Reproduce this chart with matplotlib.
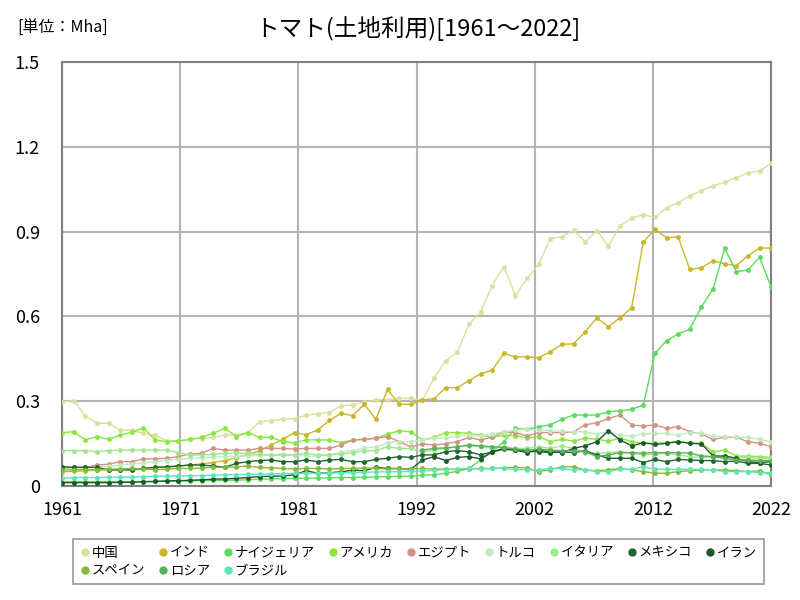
import numpy as np
import matplotlib
matplotlib.use('Agg')
import matplotlib.pyplot as plt
from matplotlib.lines import Line2D

plt.rcParams['font.family'] = ['Noto Sans CJK JP', 'DejaVu Sans']

years = list(range(1961, 2023))

# values in Mha
china = [0.298, 0.302, 0.249, 0.222, 0.222, 0.198, 0.198, 0.186, 0.180, 0.160,
         0.160, 0.165, 0.168, 0.172, 0.180, 0.182, 0.188, 0.228, 0.231, 0.237,
         0.238, 0.250, 0.256, 0.260, 0.284, 0.287, 0.297, 0.305, 0.305, 0.310,
         0.310, 0.304, 0.382, 0.443, 0.473, 0.572, 0.615, 0.709, 0.776, 0.673,
         0.735, 0.785, 0.875, 0.882, 0.905, 0.864, 0.903, 0.850, 0.920, 0.948,
         0.960, 0.950, 0.985, 1.002, 1.027, 1.045, 1.062, 1.074, 1.091, 1.108,
         1.115, 1.141]
india = [0.050, 0.052, 0.054, 0.056, 0.057, 0.058, 0.060, 0.062, 0.065, 0.067,
         0.070, 0.075, 0.078, 0.083, 0.090, 0.100, 0.112, 0.125, 0.145, 0.165,
         0.189, 0.182, 0.198, 0.232, 0.257, 0.249, 0.289, 0.236, 0.342, 0.289,
         0.289, 0.304, 0.309, 0.348, 0.348, 0.372, 0.397, 0.409, 0.469, 0.457,
         0.457, 0.454, 0.475, 0.501, 0.503, 0.545, 0.595, 0.564, 0.595, 0.631,
         0.864, 0.908, 0.878, 0.881, 0.766, 0.772, 0.797, 0.786, 0.779, 0.815,
         0.842, 0.842]
nigeria = [0.015, 0.015, 0.015, 0.015, 0.015, 0.015, 0.015, 0.016, 0.016, 0.017,
           0.018, 0.018, 0.019, 0.020, 0.020, 0.021, 0.022, 0.024, 0.025, 0.026,
           0.027, 0.028, 0.028, 0.029, 0.030, 0.030, 0.031, 0.032, 0.033, 0.034,
           0.035, 0.038, 0.040, 0.045, 0.052, 0.062, 0.092, 0.121, 0.157, 0.204,
           0.200, 0.210, 0.216, 0.236, 0.251, 0.251, 0.251, 0.263, 0.266, 0.271,
           0.286, 0.469, 0.514, 0.538, 0.555, 0.634, 0.697, 0.841, 0.758, 0.764,
           0.809, 0.703]
america = [0.189, 0.192, 0.163, 0.175, 0.165, 0.180, 0.190, 0.206, 0.163, 0.157,
           0.159, 0.165, 0.172, 0.186, 0.204, 0.175, 0.189, 0.172, 0.172, 0.157,
           0.153, 0.163, 0.163, 0.163, 0.153, 0.163, 0.165, 0.169, 0.184, 0.195,
           0.192, 0.163, 0.172, 0.189, 0.189, 0.186, 0.180, 0.172, 0.180, 0.178,
           0.170, 0.175, 0.157, 0.165, 0.159, 0.169, 0.165, 0.159, 0.169, 0.157,
           0.151, 0.151, 0.153, 0.157, 0.153, 0.151, 0.121, 0.127, 0.106, 0.106,
           0.104, 0.101]
egypt = [0.066, 0.066, 0.066, 0.074, 0.077, 0.086, 0.086, 0.096, 0.096, 0.098,
         0.104, 0.113, 0.116, 0.133, 0.127, 0.127, 0.127, 0.133, 0.133, 0.133,
         0.131, 0.133, 0.133, 0.133, 0.145, 0.163, 0.165, 0.169, 0.175, 0.157,
         0.139, 0.149, 0.145, 0.149, 0.157, 0.172, 0.163, 0.172, 0.192, 0.189,
         0.177, 0.189, 0.189, 0.189, 0.192, 0.216, 0.224, 0.239, 0.251, 0.216,
         0.212, 0.216, 0.204, 0.210, 0.192, 0.184, 0.165, 0.172, 0.172, 0.157,
         0.151, 0.139]
turkey = [0.060, 0.062, 0.065, 0.068, 0.070, 0.074, 0.078, 0.082, 0.086, 0.090,
          0.095, 0.098, 0.100, 0.102, 0.104, 0.106, 0.106, 0.108, 0.110, 0.112,
          0.110, 0.106, 0.106, 0.110, 0.120, 0.125, 0.133, 0.139, 0.153, 0.157,
          0.157, 0.163, 0.169, 0.169, 0.177, 0.180, 0.177, 0.184, 0.192, 0.198,
          0.200, 0.198, 0.196, 0.194, 0.192, 0.192, 0.184, 0.192, 0.180, 0.177,
          0.184, 0.186, 0.186, 0.180, 0.189, 0.186, 0.177, 0.175, 0.172, 0.172,
          0.165, 0.157]
italy = [0.125, 0.125, 0.125, 0.122, 0.125, 0.127, 0.127, 0.127, 0.127, 0.127,
         0.118, 0.110, 0.110, 0.112, 0.115, 0.118, 0.115, 0.112, 0.110, 0.108,
         0.110, 0.115, 0.110, 0.110, 0.113, 0.118, 0.125, 0.125, 0.139, 0.133,
         0.133, 0.121, 0.127, 0.133, 0.139, 0.142, 0.139, 0.133, 0.139, 0.133,
         0.133, 0.139, 0.133, 0.142, 0.133, 0.118, 0.116, 0.118, 0.121, 0.116,
         0.110, 0.113, 0.116, 0.110, 0.104, 0.101, 0.101, 0.101, 0.101, 0.101,
         0.098, 0.098]
mexico = [0.068, 0.066, 0.066, 0.066, 0.057, 0.057, 0.057, 0.062, 0.066, 0.068,
          0.071, 0.074, 0.074, 0.071, 0.066, 0.080, 0.086, 0.090, 0.092, 0.086,
          0.086, 0.092, 0.086, 0.092, 0.094, 0.086, 0.086, 0.094, 0.098, 0.104,
          0.101, 0.110, 0.110, 0.121, 0.125, 0.121, 0.110, 0.121, 0.130, 0.127,
          0.124, 0.121, 0.118, 0.121, 0.118, 0.125, 0.110, 0.098, 0.098, 0.098,
          0.083, 0.094, 0.086, 0.094, 0.092, 0.090, 0.090, 0.086, 0.088, 0.080,
          0.080, 0.074]
iran = [0.012, 0.012, 0.012, 0.012, 0.012, 0.013, 0.013, 0.015, 0.016, 0.018,
        0.019, 0.020, 0.022, 0.024, 0.025, 0.027, 0.030, 0.033, 0.035, 0.035,
        0.040, 0.054, 0.045, 0.047, 0.050, 0.056, 0.054, 0.066, 0.062, 0.062,
        0.059, 0.092, 0.104, 0.090, 0.101, 0.104, 0.096, 0.121, 0.133, 0.127,
        0.118, 0.127, 0.121, 0.118, 0.133, 0.142, 0.157, 0.195, 0.163, 0.142,
        0.153, 0.147, 0.151, 0.157, 0.151, 0.149, 0.106, 0.106, 0.098, 0.086,
        0.083, 0.086]
spain = [0.057, 0.057, 0.058, 0.058, 0.060, 0.060, 0.062, 0.060, 0.058, 0.060,
         0.062, 0.062, 0.064, 0.066, 0.066, 0.068, 0.070, 0.066, 0.064, 0.062,
         0.060, 0.062, 0.062, 0.060, 0.062, 0.062, 0.064, 0.062, 0.060, 0.062,
         0.060, 0.062, 0.060, 0.060, 0.058, 0.060, 0.062, 0.062, 0.064, 0.066,
         0.064, 0.051, 0.057, 0.068, 0.068, 0.057, 0.054, 0.057, 0.062, 0.057,
         0.051, 0.045, 0.045, 0.051, 0.054, 0.057, 0.057, 0.057, 0.054, 0.051,
         0.054, 0.039]
russia = [None] * 31 + [
          0.127, 0.133, 0.135, 0.139, 0.145, 0.142, 0.139, 0.136, 0.130, 0.127,
          0.130, 0.127, 0.125, 0.125, 0.121, 0.104, 0.110, 0.118, 0.118, 0.116,
          0.118, 0.118, 0.118, 0.116, 0.106, 0.104, 0.098, 0.092, 0.092, 0.090,
          0.090]
brazil = [0.027, 0.030, 0.030, 0.030, 0.031, 0.031, 0.032, 0.033, 0.034, 0.035,
          0.036, 0.036, 0.037, 0.038, 0.040, 0.040, 0.041, 0.042, 0.043, 0.044,
          0.045, 0.045, 0.045, 0.046, 0.047, 0.047, 0.048, 0.050, 0.050, 0.051,
          0.052, 0.053, 0.055, 0.058, 0.060, 0.063, 0.060, 0.062, 0.063, 0.059,
          0.057, 0.057, 0.062, 0.062, 0.057, 0.057, 0.051, 0.051, 0.059, 0.059,
          0.068, 0.059, 0.059, 0.059, 0.059, 0.059, 0.057, 0.051, 0.051, 0.051,
          0.047, 0.047]

names = ['中国', 'インド', 'ナイジェリア', 'アメリカ', 'エジプト', 'トルコ',
         'イタリア', 'メキシコ', 'イラン', 'スペイン', 'ロシア', 'ブラジル']
series = [china, india, nigeria, america, egypt, turkey,
          italy, mexico, iran, spain, russia, brazil]
colors = ['#dede9e', '#c9b824', '#5cdc5c', '#88e83c', '#d39383', '#c2eac2',
          '#a0e890', '#1e6634', '#1a5a2c', '#88bb33', '#5cb05c', '#5ce6b8']

xtick_labels = ['1961', '1971', '1981', '1992', '2002', '2012', '2022']
ytick_values = [0, 0.3, 0.6, 0.9, 1.2, 1.5]
ytick_labels = ['0', '0.3', '0.6', '0.9', '1.2', '1.5']

fig = plt.figure(figsize=(8, 6), dpi=100)
ax = fig.add_axes([0.0775, 0.19, 0.8865, 0.7067])

for vals, col in zip(series, colors):
    y = np.array([np.nan if v is None else v for v in vals], dtype=float)
    ax.plot(years, y, color=col, lw=1.0, marker='o', markersize=3.5,
            markeredgewidth=0, zorder=3)

ax.set_xlim(1961, 2022)
ax.set_ylim(0, 1.5)
ax.set_xticks(np.linspace(1961, 2022, 7))
ax.set_xticklabels(xtick_labels)
ax.set_yticks(ytick_values)
ax.set_yticklabels(ytick_labels)
ax.tick_params(length=0, labelsize=13)
ax.tick_params(axis='x', pad=11)
ax.tick_params(axis='y', pad=16)
ax.grid(True, color='#b4b4b4', lw=1.5)
ax.set_axisbelow(True)
for sp in ax.spines.values():
    sp.set_color('#808080')
    sp.set_linewidth(1.5)

fig.text(0.523, 0.953, 'トマト(土地利用)[1961～2022]', ha='center', va='center',
         fontsize=17)
fig.text(0.022, 0.953, '[単位：Mha]', ha='left', va='center', fontsize=11.5)

# legend fills row by row: 9 entries on the first row, 3 on the second
order = [0, 9, 1, 10, 2, 11, 3, 4, 5, 6, 7, 8]
handles = [Line2D([], [], color=colors[i], marker='o', linestyle='none',
                  markersize=6, markeredgewidth=0) for i in order]
labels = [names[i] for i in order]
leg = fig.legend(handles, labels, loc='upper left', bbox_to_anchor=(0.083, 0.113),
                 ncol=9, fontsize=9.6, frameon=True, fancybox=False,
                 handletextpad=0.1, columnspacing=0.95, borderpad=0.5,
                 handlelength=0.8, labelspacing=0.3)
leg.get_frame().set_edgecolor('#808080')
leg.get_frame().set_linewidth(1.2)

fig.savefig('out.png', dpi=100)
